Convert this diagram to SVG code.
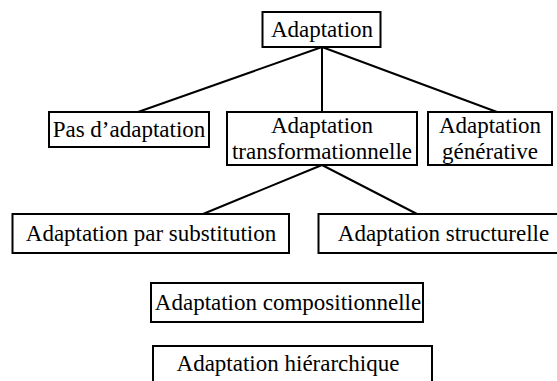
<svg xmlns="http://www.w3.org/2000/svg" width="557" height="381" viewBox="0 0 557 381">
<defs>
<style>
.b{fill:#fff;stroke:#000;stroke-width:2}
.t{font-family:'Liberation Serif',serif;font-size:23px;text-anchor:middle;fill:#000}
</style>
</defs>
<rect x="0" y="0" width="557" height="381" fill="#fff"/>
<g id="connectors" stroke="#000" stroke-width="2">
<line x1="322" y1="47" x2="138" y2="112"/>
<line x1="322" y1="47" x2="322" y2="112"/>
<line x1="322" y1="47" x2="497" y2="112"/>
<line x1="322" y1="165" x2="203" y2="214"/>
<line x1="322" y1="165" x2="417" y2="214"/>
</g>
<g id="n-adaptation"><rect class="b" x="262.5" y="12" width="118" height="35"/><text class="t" font-family="Liberation Serif" x="322" y="37">Adaptation</text></g>
<g id="n-pas"><rect class="b" x="49" y="112" width="160" height="35"/><text class="t" font-family="Liberation Serif" x="129" y="137">Pas d’adaptation</text></g>
<g id="n-transf"><rect class="b" x="227" y="112" width="190" height="53"/><text class="t" font-family="Liberation Serif" x="322" y="133">Adaptation</text><text class="t" font-family="Liberation Serif" x="322" y="159">transformationnelle</text></g>
<g id="n-gen"><rect class="b" x="428" y="112" width="124" height="53"/><text class="t" font-family="Liberation Serif" x="490" y="133">Adaptation</text><text class="t" font-family="Liberation Serif" x="490" y="159">générative</text></g>
<g id="n-subst"><rect class="b" x="12.5" y="214" width="276.5" height="39"/><text class="t" font-family="Liberation Serif" x="151" y="241">Adaptation par substitution</text></g>
<g id="n-struct"><rect class="b" x="318.5" y="214" width="245" height="39"/><text class="t" font-family="Liberation Serif" x="443.5" y="241">Adaptation structurelle</text></g>
<g id="n-comp"><rect class="b" x="151" y="283" width="272" height="39"/><text class="t" font-family="Liberation Serif" x="288" y="310">Adaptation compositionnelle</text></g>
<g id="n-hier"><rect class="b" x="153" y="346" width="279" height="42"/><text class="t" font-family="Liberation Serif" x="288" y="371">Adaptation hiérarchique</text></g>
</svg>
